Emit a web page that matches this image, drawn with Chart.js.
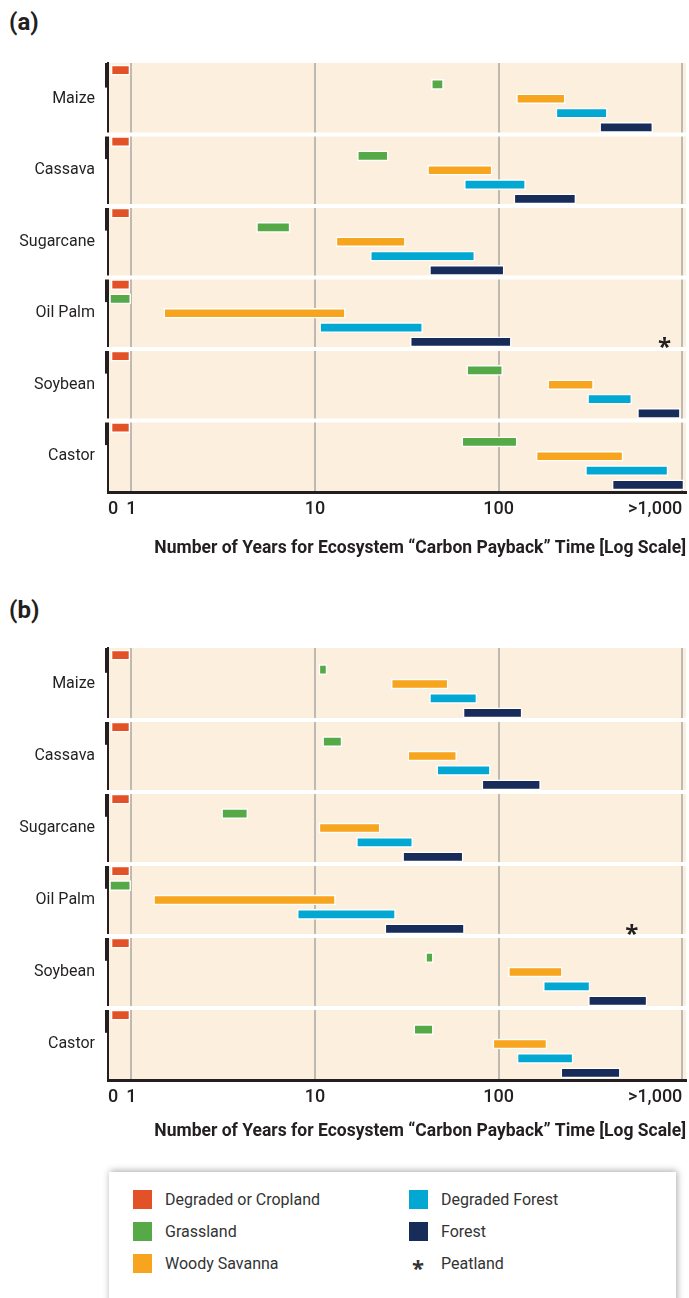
<!DOCTYPE html>
<html>
<head>
<meta charset="utf-8">
<script src="https://cdn.jsdelivr.net/npm/chart.js@4.4.1/dist/chart.umd.min.js"></script>
<style>
  body { margin: 0; width: 689px; height: 1298px; background: #fff; position: relative; overflow: hidden;
         font-family: Roboto, sans-serif; color: #231f20; }
  .tag { position: absolute; left: 9px; font-weight: 700; font-size: 24px; line-height: 28px; }
  canvas { position: absolute; left: 0; }
  .legend { position: absolute; left: 109px; top: 1172px; width: 567px; height: 140px; background: #fff;
            box-shadow: 1px -1px 7px rgba(0,0,0,0.35); }
  .item { position: absolute; font-size: 16px; line-height: 20px; color: #333; }
  .sw { position: absolute; width: 19px; height: 19px; }
</style>
</head>
<body>
<div class="tag" style="top:8px">(a)</div>
<canvas id="chartA" width="689" height="520" style="top:50px"></canvas>
<div class="tag" style="top:596px">(b)</div>
<canvas id="chartB" width="689" height="523" style="top:635px"></canvas>
<div class="legend" id="legend"></div>

<script>
const crops = ["Maize", "Cassava", "Sugarcane", "Oil Palm", "Soybean", "Castor"];
const landTypes = ["Degraded or Cropland", "Grassland", "Woody Savanna", "Degraded Forest", "Forest"];
const landColors = ["#e35126", "#55a947", "#f7a51f", "#03a8d2", "#172c58"];

const tickValues = [0.745, 1, 10, 100, 1000];
const tickLabels = ["0", "1", "10", "100", ">1,000"];
const axisMin = 0.745;
const axisMax = 1047;
const axisTitle = "Number of Years for Ecosystem \u201cCarbon Payback\u201d Time [Log Scale]";

// payback ranges [from, to] in years, one per crop (same order as crops)
// panel (a)
const aCropland  = [[0.775, 0.98], [0.775, 0.98], [0.775, 0.98], [0.775, 0.98], [0.775, 0.98], [0.775, 0.98]];
const aGrassland = [[43, 50], [17, 25], [4.8, 7.3], [0.76, 0.99], [67, 105], [63, 126]];
const aSavanna   = [[125, 230], [41, 92], [13, 31], [1.5, 14.6], [185, 328], [160, 475]];
const aDegForest = [[205, 390], [65, 140], [20, 74], [10.6, 38.5], [305, 530], [297, 835]];
const aForest    = [[355, 690], [121, 263], [42, 107], [33, 117], [570, 975], [415, 1020]];
const aPeatland  = [null, null, null, 800, null, null];

// panel (b)
const bCropland  = [[0.775, 0.98], [0.775, 0.98], [0.775, 0.98], [0.775, 0.98], [0.775, 0.98], [0.775, 0.98]];
const bGrassland = [[10.5, 11.6], [11, 14], [3.1, 4.3], [0.76, 0.99], [40, 44], [34.5, 44]];
const bSavanna   = [[26, 53], [32, 59], [10.5, 22.6], [1.32, 12.9], [113, 222], [93, 183]];
const bDegForest = [[42, 76], [46, 90], [16.8, 34], [8, 27.4], [175, 314], [126, 254]];
const bForest    = [[64, 134], [81, 169], [30, 64], [24, 65], [308, 642], [218, 459]];
const bPeatland  = [null, null, null, 530, null, null];

// one y row per (crop, land type); the crop name sits on the middle row
const rowLabels = crops.flatMap(c => landTypes.map((_, k) => (k === 2 ? c : "")));

function buildDatasets(ranges) {
    return landTypes.map((name, k) => ({
        label: name,
        data: rowLabels.map((_, r) => (r % 5 === k ? ranges[k][Math.floor(r / 5)] : null)),
        backgroundColor: landColors[k],
        borderColor: "#ffffff",
        borderWidth: 1.5,
        borderSkipped: false,
        barThickness: 10,
        grouped: false
    }));
}

const panelDecor = {
    id: "panelDecor",
    beforeDraw(chart) {
        const {ctx, chartArea: a} = chart;
        ctx.save();
        ctx.fillStyle = "#fcefdd";
        ctx.fillRect(a.left, a.top, a.right - a.left, a.bottom - a.top);
        ctx.restore();
    },
    beforeDatasetsDraw(chart) {
        const {ctx, chartArea: a, scales: {y}} = chart;
        ctx.save();
        // thicker axis segment beside the first rows of each crop
        ctx.fillStyle = "#231f20";
        crops.forEach((_, c) => {
            const top = c === 0 ? a.top : (y.getPixelForValue(c * 5 - 1) + y.getPixelForValue(c * 5)) / 2;
            const mid = (y.getPixelForValue(c * 5 + 1) + y.getPixelForValue(c * 5 + 2)) / 2 - 4;
            ctx.fillRect(a.left - 3, top, 4, mid - top);
        });
        // white gaps between crops
        ctx.strokeStyle = "#ffffff";
        ctx.lineWidth = 4;
        for (let c = 1; c < crops.length; c++) {
            const py = (y.getPixelForValue(c * 5 - 1) + y.getPixelForValue(c * 5)) / 2;
            ctx.beginPath();
            ctx.moveTo(a.left - 4, py);
            ctx.lineTo(a.right + 4, py);
            ctx.stroke();
        }
        ctx.restore();
    },
    afterDatasetsDraw(chart, args, opts) {
        const {ctx, scales: {x, y}} = chart;
        ctx.save();
        ctx.fillStyle = "#231f20";
        ctx.font = "700 24px 'Open Sans'";
        ctx.textAlign = "center";
        ctx.textBaseline = "alphabetic";
        opts.peat.forEach((v, c) => {
            if (v == null) return;
            ctx.fillText("*", x.getPixelForValue(v), y.getPixelForValue(c * 5 + 4) + 13);
        });
        ctx.restore();
    }
};

function makeChart(id, ranges, peat, titlePad) {
    return new Chart(document.getElementById(id), {
        type: "bar",
        data: { labels: rowLabels, datasets: buildDatasets(ranges) },
        plugins: [panelDecor],
        options: {
            indexAxis: "y",
            responsive: false,
            animation: false,
            layout: { padding: { top: 13, right: 3, left: 0, bottom: 0 } },
            plugins: {
                legend: { display: false },
                tooltip: { enabled: false },
                panelDecor: { peat: peat }
            },
            scales: {
                x: {
                    type: "logarithmic",
                    min: axisMin,
                    max: axisMax,
                    afterBuildTicks: s => {
                        s.ticks = tickValues.map(v => ({ value: v }));
                        s.min = axisMin;
                        s.max = axisMax;
                    },
                    afterFit: s => { s.height = 78; s.paddingLeft = 0; s.paddingRight = 0; },
                    ticks: {
                        callback: (v, i) => tickLabels[i],
                        align: "inner",
                        autoSkip: false,
                        maxRotation: 0,
                        padding: 7,
                        color: "#231f20",
                        font: { family: "Roboto", size: 18, weight: "500" }
                    },
                    grid: {
                        color: c => (c.index === 0 ? "rgba(0,0,0,0)" : "#bdb9b3"),
                        lineWidth: 2,
                        drawTicks: false,
                        tickLength: 0
                    },
                    border: { color: "#231f20", width: 3 },
                    title: {
                        display: true,
                        text: axisTitle,
                        align: "end",
                        color: "#231f20",
                        padding: { top: 0, bottom: titlePad },
                        font: { family: "Roboto", size: 17.5, weight: "700" }
                    }
                },
                y: {
                    offset: true,
                    afterFit: s => { s.width = 108; s.paddingTop = 0; s.paddingBottom = 0; },
                    grid: { display: false, drawTicks: false, tickLength: 0 },
                    border: { color: "#231f20", width: 2 },
                    ticks: {
                        autoSkip: false,
                        padding: 13,
                        color: "#231f20",
                        font: { family: "Roboto", size: 16 }
                    }
                }
            }
        }
    });
}

makeChart("chartA", [aCropland, aGrassland, aSavanna, aDegForest, aForest], aPeatland, 11);
makeChart("chartB", [bCropland, bGrassland, bSavanna, bDegForest, bForest], bPeatland, 16);

// legend box
const legend = document.getElementById("legend");
const legendItems = landTypes.map((name, k) => ({ name, color: landColors[k] }));
legendItems.push({ name: "Peatland", color: null });
legendItems.forEach((it, i) => {
    const col = i < 3 ? 0 : 1;
    const row = i % 3;
    const left = col === 0 ? 24 : 300;
    const top = 18 + row * 32;
    if (it.color) {
        const sw = document.createElement("div");
        sw.className = "sw";
        sw.style.left = left + "px";
        sw.style.top = top + "px";
        sw.style.background = it.color;
        legend.appendChild(sw);
    } else {
        const star = document.createElement("div");
        star.className = "item";
        star.style.left = (left + 3) + "px";
        star.style.top = (top + 3) + "px";
        star.style.fontFamily = "'Open Sans'";
        star.style.fontWeight = "700";
        star.style.fontSize = "22px";
        star.textContent = "*";
        legend.appendChild(star);
    }
    const label = document.createElement("div");
    label.className = "item";
    label.style.left = (left + 32) + "px";
    label.style.top = top + "px";
    label.textContent = it.name;
    legend.appendChild(label);
});
</script>
</body>
</html>
